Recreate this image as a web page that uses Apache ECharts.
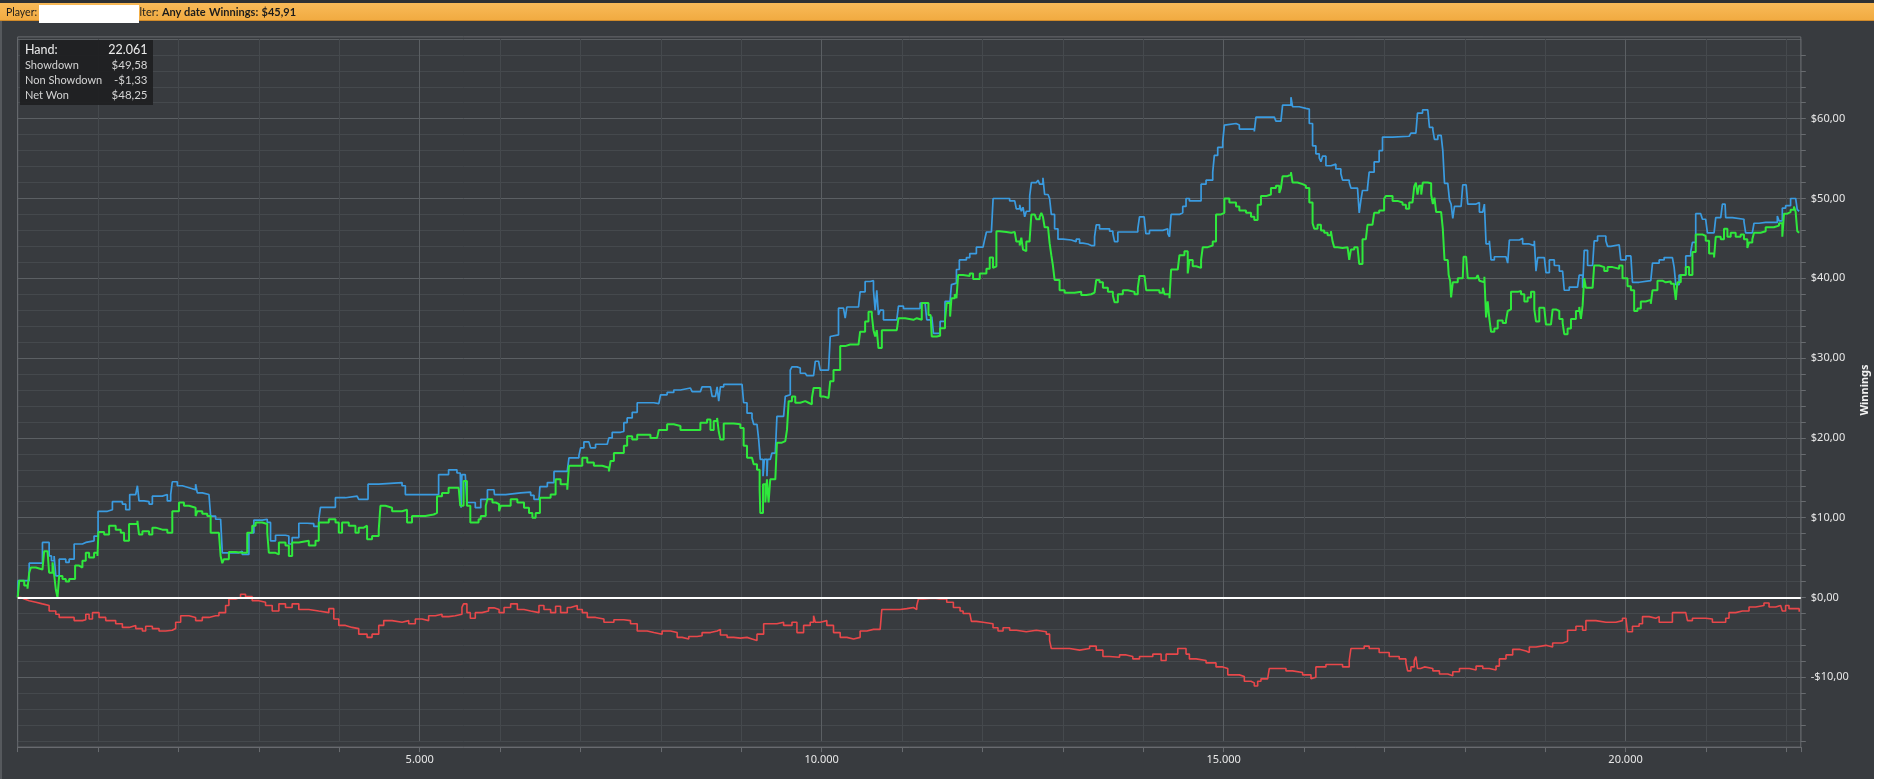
<!DOCTYPE html>
<html><head><meta charset="utf-8">
<script src="https://cdn.jsdelivr.net/npm/echarts@6/dist/echarts.min.js"></script>
<style>html,body{margin:0;padding:0;background:#fff;overflow:hidden}#c{width:1896px;height:779px}</style>
</head><body><div id="c"></div><script>
// ---- data (hands, cumulative $) ----
const summaryLabels = ['Hand:', 'Showdown', 'Non Showdown', 'Net Won'];
const summaryValues = ['22.061', '$49,58', '-$1,33', '$48,25'];
const headerPlayer = 'Player:';
const headerFilter = ['lter:', 'Any date', 'Winnings:', '$45,91'];
const xTickLabelsEvery = 5000;
const yTickLabelsEvery = 10;

const showdown = [[0,0],[5,2.1],[143,2.1],[143,4.3],[308,4.4],[308,6.9],[391,6.9],[391,5.2],[420,4.6],[453,5.2],[474,2.7],[516,4.8],[598,4.4],[640,4.8],[702,6.7],[805,6.9],[847,7.1],[950,7.7],[1000,7.7],[1000,10.8],[1116,11.0],[1178,12.0],[1302,11.7],[1344,11.0],[1393,12.9],[1468,13.1],[1489,14.0],[1509,12.1],[1571,12.0],[1634,11.7],[1675,12.7],[1799,12.9],[1861,12.1],[1903,12.9],[1923,14.5],[1986,14.0],[2048,13.75],[2131,13.5],[2213,14.2],[2234,13.1],[2296,12.9],[2379,12.7],[2400,10.2],[2462,9.8],[2524,9.6],[2545,5.6],[2627,5.6],[2752,5.8],[2793,5.4],[2876,8.1],[2938,9.7],[3042,9.8],[3104,9.4],[3145,7.1],[3207,7.8],[3331,7.7],[3373,6.7],[3414,7.5],[3497,9.3],[3600,9.25],[3683,8.9],[3745,9.8],[3766,11.3],[3870,11.3],[3952,12.5],[4077,12.7],[4222,12.5],[4242,12.3],[4325,12.3],[4358,14.2],[4491,14.4],[4781,14.0],[4822,12.9],[4946,12.9],[5195,12.9],[5236,15.4],[5360,16.0],[5464,15.6],[5505,15.4],[5515,11.25],[5526,15.4],[5567,15.4],[5588,11.9],[5692,11.25],[5760,12.3],[5843,13.5],
[5925,13.5],[5930,12.9],[6070,12.7],[6090,13.1],[6257,13.2],[6381,12.8],[6422,12.3],[6484,12.3],[6496,13.9],[6588,14.4],[6671,15.8],[6836,15.8],[6857,17.5],[6981,17.8],[7002,18.75],[7043,19.5],[7105,19.5],[7126,18.75],[7188,19.2],[7333,19.4],[7354,20.0],[7395,20.7],[7499,20.8],[7540,21.9],[7581,22.5],[7644,23.2],[7706,24.4],[7830,24.4],[7913,24.3],[7975,24.4],[7996,25.4],[8078,25.7],[8161,26.0],[8244,26.25],[8368,26.1],[8389,25.8],[8492,26.0],[8513,26.4],[8617,26.4],[8638,25.2],[8679,25.0],[8700,26.4],[8720,24.6],[8741,26.4],[8782,26.7],[8906,26.7],[9010,26.5],[9030,24.4],[9072,23.1],[9134,22.5],[9155,21.7],[9196,21.5],[9217,19.8],[9237,17.3],[9271,15.2],[9288,17.3],[9320,15.2],[9328,17.3],[9361,17.3],[9382,18.1],[9424,18.2],[9444,22.7],[9527,22.9],[9548,25.2],[9569,25.4],[9610,28.5],[9631,28.9],[9693,28.75],[9734,28.1],[9796,28.1],[9817,27.8],[9900,27.8],[9921,29.6],[9962,29.6],[9983,28.5],[10086,28.75],[10107,32.7],[10128,32.9],[10210,36.25],[10272,36.5],[10293,35.0],[10314,36.4],[10459,36.5],[10479,38.3],[10541,39.6],[10604,39.7],[10645,38.5],[10666,36.0],[10686,38.5],[10707,35.4],[10728,36.0],[10769,34.8],[10935,34.9],[10956,36.5],[11018,36.2],[11184,36.2],[11225,36.9],[11287,37.0],[11308,34.8],[11370,35.2],[11391,33.1],[11432,33.1],[11474,34.6],[11535,37.1],[11597,37.1],[11615,39.2],[11638,39.4],[11677,41.1],[11713,42.3],
[11801,42.6],[11843,43.1],[11925,43.9],[12008,44.1],[12029,44.9],[12050,45.8],[12112,45.7],[12133,50.0],[12174,50.0],[12339,49.7],[12402,49.5],[12422,48.7],[12464,49.2],[12484,48.4],[12505,48.9],[12526,47.7],[12546,48.4],[12588,50.3],[12609,52.0],[12671,51.8],[12692,52.3],[12712,51.8],[12753,52.6],[12774,50.5],[12816,50.5],[12836,50.0],[12857,48.0],[12898,46.2],[12940,44.9],[13002,44.8],[13105,44.6],[13167,44.9],[13209,44.4],[13250,44.3],[13312,44.1],[13354,44.1],[13395,45.2],[13416,46.7],[13457,46.2],[13582,45.9],[13623,45.6],[13644,44.6],[13685,45.8],[13830,45.8],[13933,46.2],[13954,47.7],[14012,47.7],[14033,45.6],[14078,46.0],[14244,46.2],[14306,45.6],[14327,45.2],[14347,48.0],[14451,48.2],[14492,49.0],[14533,50.0],[14575,49.7],[14658,49.7],[14720,51.8],[14782,52.3],[14865,53.3],[14885,55.4],[14927,56.4],[14989,57.1],[15010,59.2],[15031,59.4],[15155,59.2],[15196,58.7],[15382,58.4],[15403,60.2],[15631,60.3],[15651,59.7],[15713,59.7],[15734,61.7],[15838,62.7],[15858,61.5],[15941,61.3],[16024,61.2],[16066,59.4],[16107,56.6],[16148,55.6],[16190,55.1],[16211,54.6],[16231,55.3],[16273,54.1],[16335,54.1],[16356,54.3],[16397,53.7],[16459,53.1],[16480,52.3],[16563,52.0],[16584,51.3],[16666,51.4],[16687,48.2],[16708,49.8],[16728,51.0],[16790,51.3],[16811,53.3],[16873,54.6],[16935,56.0],[16977,57.7],[17102,57.8],[17309,57.8],[17330,58.2],[17392,58.4],[17412,60.7],[17475,61.1],
[17540,61.2],[17561,58.9],[17603,58.6],[17623,57.4],[17665,57.9],[17706,57.9],[17727,56.0],[17748,51.9],[17789,51.7],[17810,49.8],[17830,49.3],[17851,47.5],[17872,49.0],[17954,49.0],[17975,51.7],[18017,51.7],[18037,49.3],[18141,49.3],[18161,49.5],[18182,48.3],[18224,48.3],[18244,49.3],[18265,44.3],[18306,44.7],[18327,42.3],[18368,42.7],[18513,42.6],[18534,41.9],[18555,44.8],[18679,45.0],[18720,44.3],[18803,44.1],[18865,44.7],[18886,40.9],[18907,42.6],[18990,42.7],[19010,40.7],[19052,42.3],[19114,41.6],[19176,40.9],[19217,40.7],[19238,38.5],[19300,38.9],[19403,39.1],[19424,40.4],[19466,38.8],[19486,43.5],[19528,41.6],[19590,41.6],[19610,44.7],[19652,45.3],[19755,44.7],[19776,44.0],[19817,44.2],[19921,44.0],[19941,42.3],[20004,42.8],[20066,43.0],[20086,39.5],[20169,39.7],[20314,39.7],[20335,41.9],[20418,42.3],[20480,42.6],[20583,42.6],[20604,41.4],[20625,39.2],[20666,40.4],[20749,42.8],[20811,43.3],[20832,44.5],[20873,48.1],[20935,48.1],[20956,47.4],[20997,47.2],[21018,45.7],[21101,45.7],[21122,47.6],[21184,47.7],[21205,49.3],[21238,49.3],[21246,47.6],[21329,47.4],[21473,47.1],[21494,45.7],[21577,45.9],[21598,46.9],[21660,47.0],[21743,47.0],[21826,47.0],[21888,47.8],[21909,47.2],[21950,48.8],[21991,49.1],[22053,50.0],[22116,50.1],[22136,48.6],[22160,48.4]];

const netWon = [[0,0],[19,2.1],[81,1.5],[122,1.1],[143,3.1],[164,3.75],[226,3.5],[308,3.5],[329,5.8],[371,5.6],[391,3.1],[433,4.4],[453,2.9],[474,1.0],[495,0],[507,-0.2],[516,2.7],[557,2.3],[598,2.0],[640,2.3],[681,2.3],[714,4.0],[764,3.75],[805,4.6],[847,5.6],[888,5.0],[950,5.6],[992,5.2],[1004,8.2],[1075,7.9],[1137,9.0],[1219,8.5],[1282,8.1],[1323,7.1],[1385,9.2],[1447,9.2],[1489,9.6],[1509,7.9],[1551,8.3],[1634,7.9],[1675,8.75],[1716,8.5],[1799,8.5],[1861,8.1],[1923,10.8],[2006,11.9],[2068,11.5],[2131,11.25],[2213,10.2],[2234,10.8],[2296,10.5],[2358,10.2],[2400,8.1],[2462,8.1],[2503,8.3],[2524,5.2],[2545,4.3],[2565,4.8],[2627,5.7],[2710,5.6],[2793,5.6],[2855,8.1],[2917,9.0],[2959,9.4],[3042,9.2],[3104,8.1],[3124,5.6],[3207,5.4],[3249,6.9],[3331,6.5],[3373,5.2],[3414,6.9],[3497,7.1],[3621,6.5],[3704,7.1],[3745,9.4],[3870,9.8],[3953,9.4],[3994,8.1],[4035,9.4],[4118,9.0],[4201,8.1],[4242,8.75],[4305,9.0],[4346,7.3],[4408,7.7],[4491,8.5],[4512,11.5],[4574,11.25],[4657,10.8],[4781,11.0],[4843,9.4],[4905,10.2],[4988,10.2],[5071,10.4],[5174,10.6],[5216,12.7],[5278,13.1],[5360,13.75],[5485,13.75],[5505,11.5],[5526,11.5],[5546,14.6],[5567,14.6],[5588,11.5],[5630,9.4],[5733,9.8],[5760,10.2],[5822,11.5],[5843,12.3],[5905,11.9],[5946,11.7],[5988,10.8],[6009,11.5],[6132,12.3],[6215,11.9],[6298,11.25],[6360,10.6],[6402,10.0],[6443,10.6],[6496,12.5],[6588,12.5],[6629,12.9],[6691,14.8],[6753,14.2],[6836,13.5],[6857,16.5],[6960,16.5],[7023,17.5],[7085,16.9],[7167,16.5],[7271,16.25],[7354,15.8],[7375,17.1],[7416,18.1],[7478,18.1],[7540,19.0],[7581,20.2],[7644,19.8],[7706,20.4],[7788,20.4],[7871,20.0],[7954,19.8],[7975,21.0],[8078,21.7],[8161,21.5],[8244,21.0],[8327,21.0],[8409,21.0],[8492,21.9],[8575,22.3],[8617,21.0],[8658,22.1],[8700,22.5],[8720,20.8],[8741,19.8],[8782,21.8],[8906,21.7],[8989,21.25],[9030,19.0],[9072,17.5],[9134,17.3],[9155,16.7],[9196,16.0],[9229,13.5],[9237,10.6],[9271,14.2],[9300,11.9],[9320,14.8],[9340,11.9],[9361,14.8],[9424,15.0],[9444,19.4],[9506,19.6],[9548,19.4],[9569,21.0],[9590,24.6],[9631,25.2],[9672,24.4],[9734,24.6],[9796,24.4],[9838,24.2],[9879,25.0],[9900,26.25],[9983,25.2],[10024,25.0],[10086,25.2],[10107,27.1],[10148,28.5],[10190,28.5],[10231,31.5],[10293,31.7],[10355,31.7],[10459,31.9],[10479,33.3],[10541,34.6],[10583,35.8],[10624,35.4],[10645,33.5],[10666,32.7],[10686,33.5],[10707,31.25],[10749,33.5],[10832,33.5],[10935,33.7],[10956,35.0],[11039,34.8],[11142,35.0],[11184,34.8],[11246,36.9],[11287,36.9],[11329,35.4],[11356,35.2],[11370,32.7],[11432,32.8],[11474,33.75],[11535,34.8],[11556,36.9],[11598,35.2],[11615,37.5],[11656,38.0],[11677,37.5],[11698,40.4],[11760,40.3],[11843,40.6],[11884,39.9],[11967,40.6],[12050,41.2],[12091,42.6],[12132,41.3],[12153,41.5],[12174,45.9],[12215,45.8],[12298,45.7],[12360,45.8],[12402,45.9],[12422,44.6],[12464,44.1],[12484,45.1],[12505,43.6],[12526,43.4],[12546,44.6],[12588,44.9],[12609,48.0],[12650,48.2],[12671,47.4],[12712,47.7],[12733,48.2],[12753,47.7],[12774,46.4],[12816,46.2],[12836,44.4],[12857,42.9],[12877,41.6],[12898,39.8],[12960,38.5],[13023,38.2],[13147,38.3],[13229,37.9],[13292,38.0],[13354,38.2],[13395,38.3],[13416,39.8],[13457,39.5],[13499,38.8],[13561,38.3],[13623,37.8],[13644,37.0],[13685,38.0],[13747,38.5],[13809,38.3],[13892,38.0],[13933,38.8],[13954,40.3],[14016,40.3],[14037,38.5],[14120,38.5],[14202,38.2],[14244,38.8],[14265,38.0],[14327,37.5],[14347,41.1],[14430,41.3],[14451,42.9],[14513,43.4],[14554,40.6],[14575,42.3],[14616,41.5],[14658,41.3],[14720,42.3],[14741,43.9],[14803,44.1],[14865,44.6],[14906,48.0],[14968,48.2],[15010,50.0],[15072,49.5],[15155,49.0],[15196,48.5],[15279,48.2],[15341,47.7],[15382,47.3],[15424,49.2],[15465,50.3],[15527,50.5],[15589,51.3],[15651,51.6],[15693,50.7],[15713,51.3],[15734,52.8],[15796,53.0],[15838,53.3],[15858,52.0],[15920,51.8],[15983,51.6],[16024,51.3],[16066,49.5],[16107,46.9],[16128,46.2],[16169,46.7],[16211,46.0],[16252,45.7],[16294,45.4],[16335,45.9],[16356,44.6],[16376,43.9],[16418,43.8],[16480,43.9],[16542,43.9],[16563,42.3],[16584,43.6],[16625,43.9],[16666,43.8],[16687,41.8],[16708,41.8],[16728,44.9],[16770,44.9],[16790,46.7],[16852,46.9],[16873,48.2],[16935,48.5],[16997,50.0],[17018,50.3],[17102,49.7],[17164,49.5],[17226,49.2],[17268,48.7],[17309,49.5],[17350,49.7],[17371,51.5],[17392,52.0],[17412,50.5],[17433,51.6],[17458,50.5],[17478,52.0],[17540,51.9],[17582,50.5],[17603,49.3],[17623,50.1],[17644,48.3],[17706,48.3],[17727,46.2],[17748,42.3],[17789,42.1],[17800,40.4],[17818,39.7],[17830,37.6],[17851,39.5],[17913,40.0],[17975,40.0],[17985,42.7],[18017,42.7],[18037,40.0],[18141,40.1],[18161,40.4],[18182,39.7],[18203,39.5],[18244,40.2],[18265,35.1],[18285,37.1],[18306,34.9],[18327,33.3],[18368,33.7],[18410,34.7],[18472,34.4],[18513,34.7],[18534,35.9],[18555,36.1],[18575,38.3],[18658,38.4],[18700,38.0],[18741,37.1],[18782,37.6],[18824,38.3],[18865,36.1],[18886,34.6],[18927,36.3],[18989,36.2],[19010,34.2],[19072,34.2],[19093,36.1],[19134,35.9],[19176,34.9],[19217,34.4],[19238,33.0],[19279,33.7],[19321,34.9],[19383,35.9],[19424,36.4],[19445,34.9],[19466,36.6],[19486,40.0],[19507,38.8],[19590,38.8],[19610,41.6],[19673,41.4],[19735,40.9],[19776,41.4],[19838,41.2],[19921,41.6],[19962,40.0],[20024,39.0],[20066,38.5],[20107,35.9],[20148,36.2],[20190,37.1],[20252,37.3],[20314,36.8],[20335,38.5],[20397,39.7],[20459,39.5],[20500,39.6],[20563,39.3],[20604,39.0],[20625,37.3],[20645,39.5],[20687,40.4],[20749,41.4],[20790,40.4],[20832,43.3],[20873,45.5],[20956,45.3],[20997,44.7],[21039,43.1],[21101,42.6],[21122,45.2],[21184,44.9],[21225,46.2],[21267,45.2],[21308,45.7],[21370,45.2],[21432,45.5],[21473,44.9],[21515,43.8],[21536,44.5],[21577,44.9],[21598,45.7],[21680,45.9],[21743,46.4],[21805,46.4],[21846,46.6],[21909,46.9],[21950,45.2],[21971,48.1],[22012,48.3],[22053,48.6],[22095,49.0],[22116,48.3],[22136,45.9],[22160,45.7]];

const nonShowdown = [[0,0],[39,-0.2],[81,-0.4],[143,-0.6],[226,-0.8],[308,-1.0],[391,-1.7],[474,-2.1],[516,-2.5],[598,-2.5],[702,-2.9],[805,-2.8],[847,-2.1],[888,-2.7],[930,-1.9],[1012,-2.5],[1095,-2.9],[1219,-3.3],[1302,-3.75],[1385,-3.5],[1468,-3.9],[1551,-4.2],[1592,-3.6],[1675,-3.9],[1758,-4.2],[1841,-4.1],[1923,-3.9],[1965,-3.1],[2027,-2.3],[2131,-2.5],[2213,-2.9],[2296,-2.5],[2379,-2.3],[2462,-2.3],[2503,-1.9],[2586,-1.0],[2627,-0.2],[2710,0],[2772,0.4],[2834,0.1],[2917,-0.4],[3000,-0.6],[3083,-1.0],[3166,-1.7],[3249,-0.8],[3331,-1.25],[3414,-0.8],[3497,-1.5],[3621,-1.7],[3745,-1.9],[3870,-1.4],[3932,-2.7],[3994,-3.5],[4077,-3.75],[4160,-3.9],[4242,-4.6],[4346,-5.0],[4408,-4.6],[4491,-3.5],[4553,-2.9],[4657,-3.1],[4781,-2.9],[4864,-3.3],[4946,-2.7],[5029,-2.9],[5112,-2.3],[5195,-2.1],[5278,-2.4],[5360,-2.3],[5443,-2.1],[5526,-1.25],[5546,-0.8],[5588,-1.9],[5630,-2.6],[5692,-1.9],[5775,-1.7],[5857,-1.3],[5925,-1.5],[5988,-1.9],[6050,-1.25],[6132,-0.8],[6215,-1.5],[6298,-1.7],[6381,-1.9],[6484,-1.0],[6546,-1.5],[6629,-1.9],[6691,-1.1],[6753,-1.9],[6836,-1.25],[6877,-1.0],[6960,-1.5],[7023,-1.9],[7085,-2.5],[7188,-2.7],[7292,-3.1],[7416,-2.8],[7540,-2.9],[7623,-3.3],[7706,-4.2],[7830,-4.4],[7913,-4.6],[8016,-4.2],[8120,-4.4],[8203,-5.0],[8265,-5.2],[8347,-4.9],[8451,-4.8],[8513,-4.4],[8617,-4.2],[8700,-4.0],[8741,-4.7],[8824,-5.0],[8906,-5.1],[8989,-5.0],[9072,-5.2],[9134,-5.4],[9196,-4.6],[9279,-3.3],[9361,-3.3],[9444,-3.1],[9527,-3.5],[9631,-3.1],[9693,-4.4],[9776,-3.5],[9858,-3.1],[9900,-2.3],[9921,-3.1],[9983,-2.9],[10065,-3.5],[10148,-4.4],[10231,-5.0],[10314,-5.2],[10397,-5.0],[10479,-4.2],[10562,-4.0],[10645,-4.0],[10728,-3.75],[10749,-1.5],[10852,-1.5],[10977,-1.4],[11059,-1.25],[11142,-1.5],[11184,-1.0],[11204,-0.2],[11267,-0.1],[11391,-0.2],[11474,-0.2],[11556,-0.6],[11639,-1.25],[11722,-1.7],[11760,-2.0],[11843,-2.0],[11863,-3.0],[11925,-3.1],[12008,-3.3],[12132,-3.8],[12194,-4.2],[12257,-3.8],[12339,-4.1],[12422,-4.3],[12546,-4.1],[12671,-4.3],[12795,-4.6],[12836,-5.4],[12857,-6.4],[12960,-6.4],[13085,-6.6],[13209,-6.4],[13333,-6.1],[13416,-6.6],[13499,-7.4],[13582,-7.5],[13706,-7.2],[13789,-7.4],[13871,-7.7],[13954,-7.4],[14037,-7.4],[14120,-7.1],[14223,-7.9],[14285,-7.1],[14347,-7.1],[14430,-6.4],[14492,-6.4],[14533,-7.1],[14575,-7.7],[14658,-7.9],[14782,-8.2],[14906,-8.7],[14989,-8.9],[15052,-9.7],[15134,-9.7],[15196,-9.9],[15258,-10.5],[15341,-10.7],[15382,-11.1],[15424,-10.5],[15465,-10.2],[15548,-10.2],[15569,-8.9],[15693,-8.9],[15776,-9.2],[15858,-9.4],[15983,-9.7],[16087,-10.2],[16107,-10.0],[16148,-8.7],[16273,-8.4],[16397,-8.4],[16480,-8.7],[16563,-7.9],[16584,-6.4],[16666,-6.4],[16749,-6.1],[16811,-6.4],[16935,-6.9],[17060,-7.4],[17185,-7.7],[17268,-8.2],[17289,-9.2],[17330,-8.7],[17371,-7.9],[17392,-7.4],[17412,-8.9],[17450,-8.7],[17499,-8.9],[17603,-9.2],[17685,-9.6],[17789,-9.8],[17851,-9.3],[17934,-8.9],[18058,-9.1],[18141,-8.6],[18224,-8.9],[18306,-9.1],[18389,-8.6],[18430,-7.7],[18513,-7.2],[18596,-6.5],[18679,-6.7],[18762,-6.9],[18803,-6.2],[18886,-6.0],[19010,-6.2],[19093,-5.7],[19217,-5.5],[19279,-4.1],[19383,-3.6],[19466,-4.1],[19507,-2.9],[19631,-3.1],[19755,-3.1],[19880,-2.9],[19962,-2.6],[20004,-2.4],[20024,-4.3],[20086,-3.6],[20169,-3.3],[20211,-2.4],[20294,-2.6],[20376,-2.4],[20418,-3.1],[20500,-3.1],[20583,-1.9],[20666,-1.9],[20749,-1.7],[20770,-2.9],[20832,-2.6],[20914,-2.6],[20997,-2.7],[21080,-3.1],[21163,-3.1],[21246,-2.6],[21287,-1.9],[21370,-1.7],[21453,-1.7],[21536,-1.2],[21619,-1.0],[21722,-0.7],[21785,-1.2],[21867,-1.0],[21929,-1.2],[21950,-1.7],[21991,-1.0],[22033,-1.4],[22116,-1.4],[22160,-1.8]];

// ---- layout / style ----
const W = 1896, H = 779;
const GRID = {left: 17.7, right: 95.2, top: 38.9, bottom: 37.9};
const X_MIN = 0, X_MAX = 22180, Y_MIN = -18, Y_MAX = 70;
const BG = '#383b3f', MINOR = '#45494d', MAJOR = '#5b5f63', FRAME = '#686b6f';
const FONT = '"Noto Sans", "DejaVu Sans", sans-serif';
const UIFONT = 'Lato, "Noto Sans", sans-serif';

function fmtHands(v) { return String(v).replace(/\B(?=(\d{3})+(?!\d))/g, '.'); }
function fmtMoney(v) { return (v < 0 ? '-$' : '$') + Math.abs(v) + ',00'; }

const chart = echarts.init(document.getElementById('c'), null, {renderer: 'canvas'});

const fTop = GRID.top - 2, fBottom = H - GRID.bottom + 6, fLeft = GRID.left, fRight = W - GRID.right;

const graphics = [
  {type: 'rect', z: 100, shape: {x: 1874, y: 0, width: W - 1874, height: H}, style: {fill: '#ffffff'}},
  {type: 'rect', z: 100, shape: {x: 0, y: 0, width: 2, height: H}, style: {fill: '#56595d'}},
  {type: 'rect', z: 100, shape: {x: 0, y: 0, width: 1874, height: 3}, style: {fill: '#2e3134'}},
  {type: 'rect', z: 100, shape: {x: 0, y: 3, width: 1874, height: 18},
    style: {fill: new echarts.graphic.LinearGradient(0, 0, 0, 1, [{offset: 0, color: '#f8ba58'}, {offset: 1, color: '#f1aa40'}])}},
  {type: 'rect', z: 100, shape: {x: 0, y: 20, width: 1874, height: 1}, style: {fill: '#d08a2a'}},
  // header texts
  {type: 'text', z: 101, x: 6, y: 12.5,
    style: {text: headerPlayer, fill: '#1c1c1c', font: '10.5px ' + UIFONT, verticalAlign: 'middle'}},
  {type: 'text', z: 101, x: 139.5, y: 12.5,
    style: {
      text: '{n|' + headerFilter[0] + '} {b|' + headerFilter[1] + '} {b|' + headerFilter[2] + '} {b|' + headerFilter[3] + '}',
      verticalAlign: 'middle', fill: '#1c1c1c',
      rich: {
        n: {fontFamily: UIFONT, fontSize: 11, color: '#1c1c1c'},
        b: {fontFamily: UIFONT, fontSize: 11, fontWeight: 'bold', color: '#1c1c1c'}
      }
    }},
  {type: 'rect', z: 102, shape: {x: 39, y: 5, width: 100, height: 18}, style: {fill: '#ffffff'}},
  // plot frame
  {type: 'rect', z: 1, shape: {x: fLeft, y: fTop, width: fRight - fLeft, height: fBottom - fTop},
    style: {fill: null, stroke: FRAME, lineWidth: 1}},
  // summary box
  {type: 'rect', z: 100, shape: {x: 20, y: 40, width: 133, height: 65}, style: {fill: 'rgba(30,31,33,0.92)'}}
];

const rowY = [50, 65.3, 80.7, 95.7];
summaryLabels.forEach((t, i) => {
  const big = i === 0;
  graphics.push({type: 'text', z: 101, x: 25, y: rowY[i], style: {text: t, fill: big ? '#ececec' : '#d4d4d4', font: (big ? '12.5px ' : '11px ') + UIFONT, verticalAlign: 'middle'}});
  graphics.push({type: 'text', z: 101, x: 147.5, y: rowY[i], style: {text: summaryValues[i], fill: big ? '#ececec' : '#d4d4d4', font: (big ? '12.5px ' : '11.5px ') + UIFONT, verticalAlign: 'middle', align: 'right'}});
});

const option = {
  backgroundColor: BG,
  animation: false,
  grid: {left: GRID.left, right: GRID.right, top: GRID.top, bottom: GRID.bottom, containLabel: false, outerBoundsMode: 'none'},
  xAxis: [{
    type: 'value', min: X_MIN, max: X_MAX, interval: 1000, position: 'bottom', offset: 6,
    axisLine: {show: true, onZero: false, lineStyle: {color: FRAME, width: 1}},
    axisTick: {show: true, length: 5, lineStyle: {color: FRAME}},
    axisLabel: {color: '#e8e8e8', fontSize: 11, fontFamily: FONT, margin: 7,
      formatter: v => (v > 0 && v % xTickLabelsEvery === 0) ? fmtHands(v) : ''},
    splitLine: {show: true, lineStyle: {color: [MAJOR, MINOR, MINOR, MINOR, MINOR], width: 1}}
  }],
  yAxis: [{
    type: 'value', min: Y_MIN, max: Y_MAX, interval: 2, position: 'right',
    axisLine: {show: false, onZero: false},
    axisTick: {show: true, length: 5, lineStyle: {color: FRAME}},
    axisLabel: {color: '#e8e8e8', fontSize: 11, fontFamily: FONT, margin: 10, showMaxLabel: false,
      formatter: v => (v % yTickLabelsEvery === 0 && v < Y_MAX) ? fmtMoney(v) : ''},
    splitLine: {show: true, lineStyle: {color: [MINOR, MINOR, MINOR, MINOR, MAJOR], width: 1}},
    name: 'Winnings', nameLocation: 'middle', nameRotate: 90, nameGap: 56,
    nameTextStyle: {color: '#f2f2f2', fontSize: 11, fontWeight: 'bold', fontFamily: FONT}
  }],
  series: [
    {name: 'Showdown', type: 'line', data: showdown, step: 'end', symbol: 'none', z: 2,
      lineStyle: {color: '#3a9be0', width: 1.7},
      markLine: {silent: true, symbol: 'none', label: {show: false}, animation: false,
        lineStyle: {color: '#ffffff', width: 2, type: 'solid'}, data: [{yAxis: 0}]}},
    {name: 'Net Won', type: 'line', data: netWon, step: 'end', symbol: 'none', z: 3,
      lineStyle: {color: '#2fe83c', width: 2}},
    {name: 'Non Showdown', type: 'line', data: nonShowdown, step: 'end', symbol: 'none', z: 4,
      lineStyle: {color: '#e8474a', width: 1.6}}
  ],
  graphic: graphics
};
chart.setOption(option);
</script></body></html>
